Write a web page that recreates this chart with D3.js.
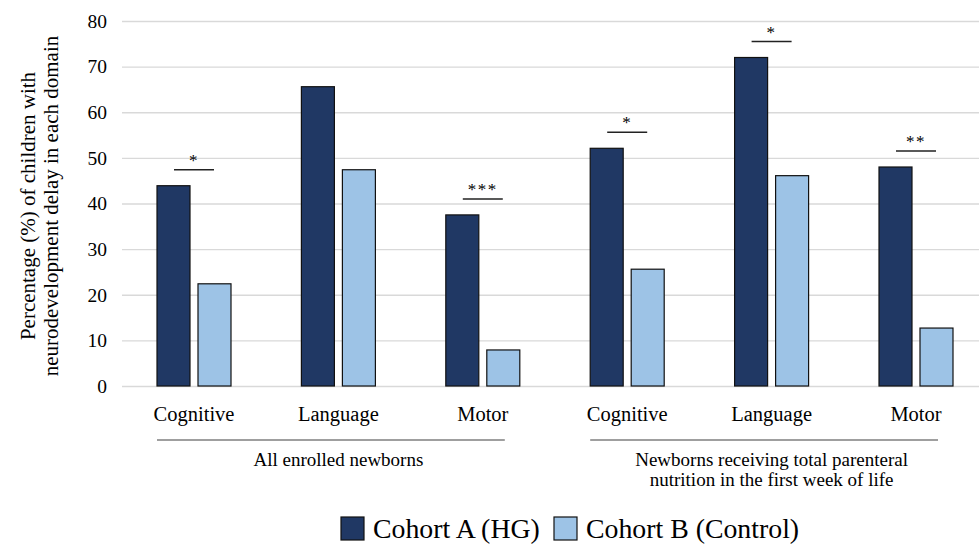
<!DOCTYPE html>
<html>
<head>
<meta charset="utf-8">
<script src="https://cdn.jsdelivr.net/npm/d3@7/dist/d3.min.js"></script>
<style>
  html, body { margin: 0; padding: 0; background: #fff; }
  text { font-family: "Liberation Serif", "Times New Roman", serif; fill: #000; }
</style>
</head>
<body>
<svg id="chart" width="979" height="545"></svg>
<script>
// Neurodevelopmental delay by domain, two populations, two cohorts
const categories = ["Cognitive", "Language", "Motor", "Cognitive", "Language", "Motor"];
const cohortA = [43.9, 65.6, 37.5, 52.1, 72.0, 48.0];   // Cohort A (HG)
const cohortB = [22.4, 47.4, 7.9, 25.6, 46.1, 12.7];    // Cohort B (Control)
const significance = ["*", "", "***", "*", "*", "**"];
const groups = [
  { label: ["All enrolled newborns"], from: 0, to: 2 },
  { label: ["Newborns receiving total parenteral", "nutrition in the first week of life"], from: 3, to: 5 }
];
const seriesNames = ["Cohort A (HG)", "Cohort B (Control)"];
const yTicks = [0, 10, 20, 30, 40, 50, 60, 70, 80];
const colors = ["#203864", "#9dc3e6"];

const svg = d3.select("#chart");
const W = 979;
const plotLeft = 122, plotTop = 21, plotBottom = 386;

const x = d3.scaleBand()
  .domain(d3.range(categories.length))
  .range([121.8, 988.2])
  .paddingInner(0).paddingOuter(0);

const y = d3.scaleLinear().domain([0, 80]).range([plotBottom, plotTop]);

// gridlines
svg.append("g")
  .selectAll("line")
  .data(yTicks)
  .join("line")
  .attr("x1", plotLeft).attr("x2", W)
  .attr("y1", d => y(d) + 0.5).attr("y2", d => y(d) + 0.5)
  .attr("stroke", "#d9d9d9").attr("stroke-width", 1.3);

// y tick labels
const yAxis = d3.axisLeft(y).tickValues(yTicks).tickSize(0).tickPadding(0);
const gy = svg.append("g").attr("transform", `translate(107,0)`).call(yAxis);
gy.select(".domain").remove();
gy.selectAll("text")
  .style("font-family", '"Liberation Serif", serif')
  .style("font-size", "19.5px")
  .attr("fill", "#000")
  .attr("dy", "0.32em");

// y axis title
const yTitle = svg.append("text")
  .attr("transform", `translate(0,206) rotate(-90)`)
  .attr("text-anchor", "middle")
  .style("font-size", "21px");
yTitle.append("tspan").attr("x", 0).attr("y", 35).text("Percentage (%) of children with");
yTitle.append("tspan").attr("x", 0).attr("y", 58).text("neurodevelopment delay in each domain");

// bars
const barW = 33, barGap = 8;
const center = i => x(i) + x.bandwidth() / 2;
const series = [cohortA, cohortB];
series.forEach((vals, s) => {
  svg.append("g")
    .selectAll("rect")
    .data(vals)
    .join("rect")
    .attr("x", (d, i) => s === 0 ? center(i) - barGap / 2 - barW : center(i) + barGap / 2)
    .attr("y", d => y(d))
    .attr("width", barW)
    .attr("height", d => y(0) - y(d))
    .attr("fill", colors[s])
    .attr("stroke", "#111")
    .attr("stroke-width", 1.2);
});

// significance markers
const sig = svg.append("g");
significance.forEach((mark, i) => {
  if (!mark) return;
  const top = y(Math.max(cohortA[i], cohortB[i])) - 16;
  sig.append("line")
    .attr("x1", center(i) - 20).attr("x2", center(i) + 20)
    .attr("y1", top).attr("y2", top)
    .attr("stroke", "#222").attr("stroke-width", 1.5);
  sig.append("text")
    .attr("x", center(i)).attr("y", top - 4)
    .attr("text-anchor", "middle")
    .style("font-size", "17px")
    .style("letter-spacing", "1.5px")
    .text(mark);
});

// category labels
svg.append("g")
  .selectAll("text")
  .data(categories)
  .join("text")
  .attr("x", (d, i) => center(i))
  .attr("y", 421)
  .attr("text-anchor", "middle")
  .style("font-size", "20.5px")
  .text(d => d);

// group brackets and labels
groups.forEach(g => {
  const x1 = center(g.from) - 37, x2 = center(g.to) + 22;
  svg.append("line")
    .attr("x1", x1).attr("x2", x2)
    .attr("y1", 440).attr("y2", 440)
    .attr("stroke", "#7f7f7f").attr("stroke-width", 1.5);
  const mid = (center(g.from) + center(g.to)) / 2;
  g.label.forEach((t, k) => {
    svg.append("text")
      .attr("x", mid).attr("y", 466 + k * 20)
      .attr("text-anchor", "middle")
      .style("font-size", "19px")
      .text(t);
  });
});

// legend
const legend = svg.append("g");
const legendItems = [{ x: 341, name: seriesNames[0], c: colors[0] }, { x: 554, name: seriesNames[1], c: colors[1] }];
legendItems.forEach(it => {
  legend.append("rect")
    .attr("x", it.x).attr("y", 517).attr("width", 23).attr("height", 23)
    .attr("fill", it.c).attr("stroke", "#111").attr("stroke-width", 1.2);
  legend.append("text")
    .attr("x", it.x + 32).attr("y", 538)
    .style("font-size", "27.8px")
    .text(it.name);
});
</script>
</body>
</html>
